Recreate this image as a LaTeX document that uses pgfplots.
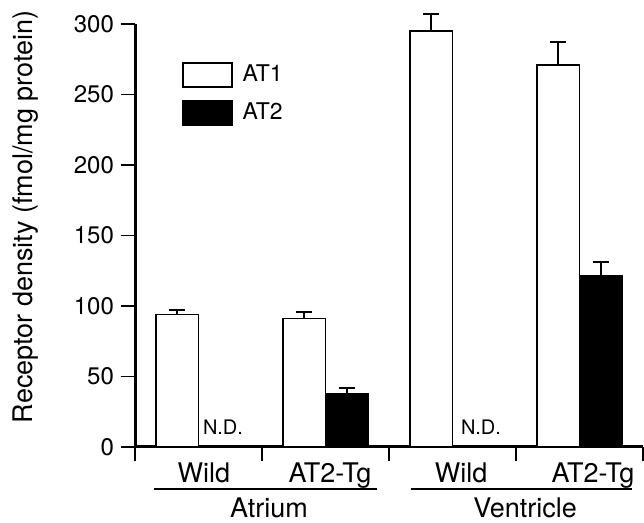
\documentclass[border=0pt]{standalone}
\usepackage{fontspec}
\setmainfont{TeX Gyre Heros}
\usepackage{pgfplots}
\pgfplotsset{compat=1.18}
\pgfplotsset{boxlegend/.style={legend image code/.code={\draw[##1] (0pt,-6pt) rectangle (24.5pt,6pt);}}}

% receptor density; groups centred at 0..3, bars placed either side of the centre
\pgfplotstableread{
x y e
-0.1675 94   3
0.8325  91   4.5
1.8325  295  12
2.8325  271  16
}\atone
\pgfplotstableread{
x y e
1.1675 37.6  4.5
3.1675 121.5 10
}\attwo

\begin{document}
\begin{tikzpicture}
  \begin{axis}[
      scale only axis,
      width=254pt, height=211.5pt,
      xmin=-0.5, xmax=3.5,
      ymin=0, ymax=300,
      axis x line*=bottom,
      axis y line*=left,
      axis line style={line width=1.5pt},
      every tick/.style={black, line width=0.8pt},
      tick align=outside,
      major tick length=7pt,
      xtick={-0.5,0.5,1.5,2.5,3.5},
      xticklabels={},
      ytick={0,50,...,300},
      yticklabel style={font=\fontsize{12}{14}\selectfont},
      /pgf/number format/assume math mode=true,
      ylabel={Receptor density (fmol/mg protein)},
      ylabel style={font=\fontsize{13.5}{16}\selectfont,
        at={(axis description cs:-0.215,0.544)}, anchor=center},
      legend style={at={(axis description cs:0.092,0.913)}, anchor=north west,
        draw=none, fill=none, inner sep=0pt, row sep=5pt,
        /tikz/every odd column/.append style={column sep=3pt},
        font=\fontsize{11.5}{13}\selectfont},
      legend cell align=left,
      clip=false,
    ]

    \addplot[ybar, bar width=0.335, bar shift=0pt,
      fill=white, draw=black, line width=0.75pt, boxlegend,
      error bars/.cd, y dir=plus, y explicit,
      error bar style={line width=1pt},
      error mark options={rotate=90, line width=1pt, mark size=4pt}]
      table[x=x, y=y, y error=e] {\atone};
    \addlegendentry{AT1}

    \addplot[ybar, bar width=0.335, bar shift=0pt,
      fill=black, draw=black, line width=0.75pt, boxlegend,
      error bars/.cd, y dir=plus, y explicit,
      error bar style={line width=1pt},
      error mark options={rotate=90, line width=1pt, mark size=4pt}]
      table[x=x, y=y, y error=e] {\attwo};
    \addlegendentry{AT2}

    % not detected
    \node[anchor=base, font=\fontsize{10}{12}\selectfont, yshift=6pt] at (axis cs:0.193,0) {N.D.};
    \node[anchor=base, font=\fontsize{10}{12}\selectfont, yshift=6pt] at (axis cs:2.224,0) {N.D.};

    % group labels
    \begin{scope}[font=\fontsize{13.5}{16}\selectfont]
      \node[anchor=base, yshift=-17.5pt] at (axis cs:0.043,0) {Wild};
      \node[anchor=base, yshift=-17.5pt] at (axis cs:1.035,0) {AT2-Tg};
      \node[anchor=base, yshift=-17.5pt] at (axis cs:2.067,0) {Wild};
      \node[anchor=base, yshift=-17.5pt] at (axis cs:3.106,0) {AT2-Tg};
      \draw[line width=1pt] ([yshift=-21pt]axis cs:-0.35,0) -- ([yshift=-21pt]axis cs:1.405,0);
      \draw[line width=1pt] ([yshift=-21pt]axis cs:1.673,0) -- ([yshift=-21pt]axis cs:3.413,0);
      \node[anchor=base, yshift=-35pt] at (axis cs:0.555,0) {Atrium};
      \node[anchor=base, yshift=-35pt] at (axis cs:2.571,0) {Ventricle};
    \end{scope}
  \end{axis}
  \pgfresetboundingbox
  \path ([xshift=-67.5pt,yshift=-37.5pt]current axis.south west)
    rectangle ([xshift=0.5pt,yshift=12pt]current axis.north east);
\end{tikzpicture}
\end{document}
